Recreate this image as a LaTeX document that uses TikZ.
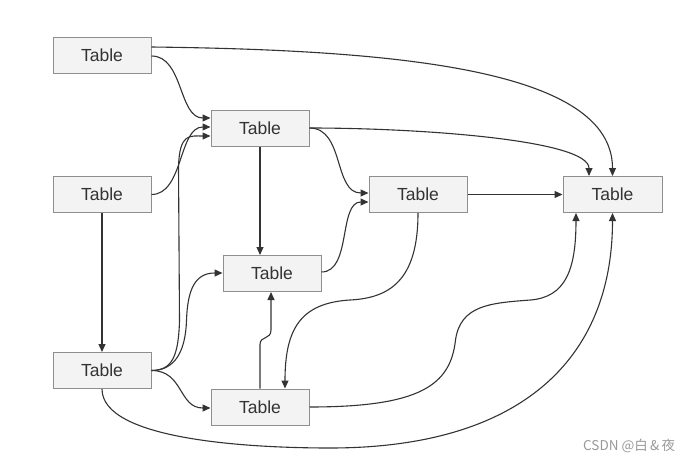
\documentclass[tikz,border=0pt]{standalone}
\usepackage{fontspec}
\setmainfont{Liberation Sans}
\newfontfamily\cjk{Noto Sans CJK SC}
\usetikzlibrary{arrows.meta,calc}
\definecolor{edgec}{HTML}{333333}
\definecolor{boxborder}{HTML}{8F8F8F}
\definecolor{boxfill}{HTML}{F3F3F3}
\definecolor{txt}{HTML}{333333}
\begin{document}
\begin{tikzpicture}[x=1pt,y=-1pt,
  tbl/.style={draw=boxborder,fill=boxfill,line width=1pt,minimum width=98pt,minimum height=36pt,inner sep=0pt,
    text=txt,font=\fontsize{17.5}{20}\selectfont},
  conn/.style={draw=edgec,line width=1.1pt,-{Triangle[length=8pt,width=7pt]}},
  plain/.style={draw=edgec,line width=1.1pt}]
\useasboundingbox (0,0) rectangle (699,463);
\node[tbl] (A) at (102,55.5) {Table};
\node[tbl] (B) at (260,128) {Table};
\node[tbl] (C) at (102,194.5) {Table};
\node[tbl] (D) at (418,194.5) {Table};
\node[tbl,minimum width=99pt] (E) at (612.5,194.5) {Table};
\node[tbl] (F) at (272,273.5) {Table};
\node[tbl] (G) at (102,370.5) {Table};
\node[tbl] (H) at (260,407) {Table};
% A -> E
\draw[conn] ($(A.east)+(0,-8.5)$) .. controls +(249,3) and +(0,-106) .. (E.north);
% A -> B
\draw[conn] ($(A.east)+(0,0.5)$) .. controls +(32,0) and +(-32,0) .. ($(B.west)+(0,-10)$);
% C -> B
\draw[conn] (C.east) .. controls +(32,0) and +(-32,0) .. ($(B.west)+(0,-1)$);
% C -> G
\draw[conn] (C.south) -- (G.north);
% G -> B
\draw[conn] (G.east) .. controls +(21,0) and +(-1,35) .. ($(G.east)+(28,-50)$) -- ($(B.west)+(-32,39)$) .. controls +(1,-34) and +(-21,0) .. ($(B.west)+(0,8)$);
% G -> F
\draw[conn] (G.east) .. controls +(24,0) and +(-1,30) .. ($(G.east)+(35,-50)$) .. controls +(1,-30) and +(-28,0) .. ($(F.west)+(0,-0.5)$);
% G -> H
\draw[conn] (G.east) .. controls +(32,0) and +(-32,0) .. ($(H.west)+(0,1)$);
% G -> E (bottom)
\draw[conn] (G.south) .. controls +(0,51) and +(-80,0) .. ($(G.south)+(228,59)$) .. controls +(190,0) and +(0,147) .. (E.south);
% B -> F
\draw[conn] (B.south) -- (B.south |- F.north);
% B -> D
\draw[conn] (B.east) .. controls +(35,0) and +(-35,0) .. ($(D.west)+(0,-1.5)$);
% B -> E
\draw[conn] (B.east) .. controls +(111,0) and +(0,-36) .. ($(E.north)+(-23.5,0)$);
% D -> E
\draw[conn] (D.east) -- (E.west);
% F -> D
\draw[conn] ($(F.east)+(0,-1.5)$) .. controls +(30,0) and +(-30,0) .. ($(D.west)+(0,7.5)$);
% D -> H
\draw[conn] (D.south) .. controls +(0,67) and +(40,-2) .. ($(D.south)+(-68,87)$) .. controls +(-50,3) and +(0,-59) .. ($(H.north)+(25,0)$);
% H -> F
\draw[conn] (H.north) -- ($(H.north)+(0,-44)$) .. controls +(0,-9) and +(0,10) .. ($(F.south)+(-1,38)$) -- ($(F.south)+(-1,0)$);
% H -> E (bottom left)
\draw[conn] (H.east) .. controls +(111,0) and +(-5,45) .. ($(H.east)+(146,-67)$) .. controls +(5,-35) and +(-40,3) .. ($(H.east)+(221,-107)$) .. controls +(35,-3) and +(0,57) .. ($(E.south)+(-36.5,0)$);
% watermark
\node[anchor=west,text=black!40,font=\cjk\fontsize{13.5}{16}\selectfont,inner sep=0pt] (wm) at (583,446) {CSDN @白\,\&\,夜};
\end{tikzpicture}
\end{document}
